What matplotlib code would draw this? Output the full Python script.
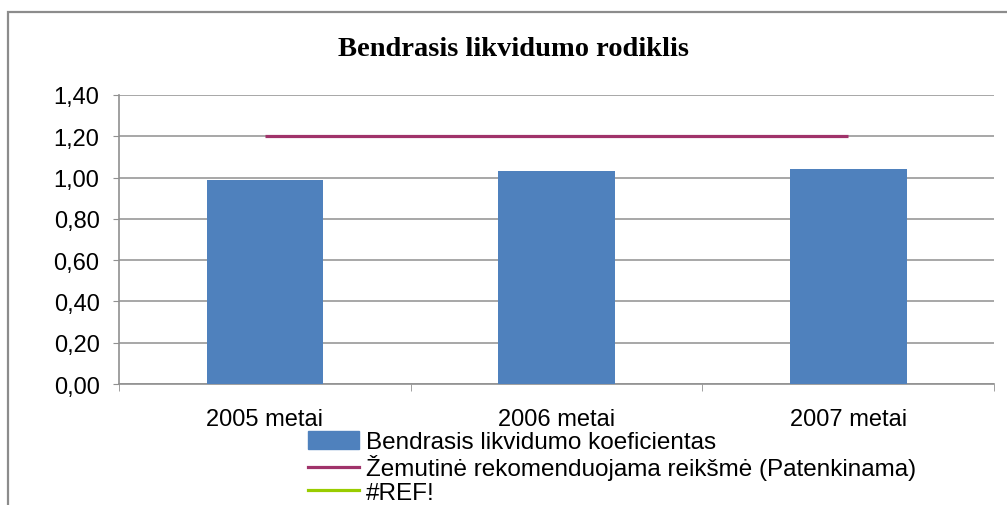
import matplotlib

matplotlib.use("Agg")

import matplotlib.pyplot as plt
from matplotlib.lines import Line2D
from matplotlib.patches import Rectangle
from matplotlib.ticker import FuncFormatter


# DUOMENYS

kategorijos = ["2005 metai", "2006 metai", "2007 metai"]

koeficientas = [0.99, 1.03, 1.04]

rekomenduojama = [1.20, 1.20, 1.20]

ref_reiksmes = []

y_ribos = (0.0, 1.40)
y_zingsnis = 0.20


# SPALVOS

SPALVA_STULPELIAI = "#4F81BD"
SPALVA_LINIJA = "#A0336A"
SPALVA_REF = "#99CC00"
SPALVA_TINKLELIS = "#A0A0A0"
SPALVA_ASYS = "#909090"

plt.rcParams["font.family"] = ["Liberation Sans", "DejaVu Sans"]

SRIFTAS_ASYS = 17
SRIFTAS_LEGENDA = 17.5


# GRAFIKAS

fig = plt.figure(figsize=(10.07, 5.06), dpi=100)

ax = fig.add_axes([0.1182, 0.2391, 0.869, 0.5712])

# isorinis remelis
fig.patches.append(
    Rectangle(
        (8 / 1007, -0.1),
        1.2,
        1.1 - 13 / 506,
        transform=fig.transFigure,
        fill=False,
        edgecolor="#8C8C8C",
        linewidth=1.6
    )
)

x = list(range(len(kategorijos)))

ax.bar(
    x,
    koeficientas,
    width=0.4,
    color=SPALVA_STULPELIAI,
    zorder=3
)

ax.plot(
    x,
    rekomenduojama,
    color=SPALVA_LINIJA,
    linewidth=2.3,
    solid_capstyle="butt",
    zorder=4
)

ax.plot(
    ref_reiksmes,
    ref_reiksmes,
    color=SPALVA_REF,
    linewidth=2.3
)

ax.set_xlim(-0.5, len(kategorijos) - 0.5)
ax.set_ylim(*y_ribos)

y_zymes = [
    round(i * y_zingsnis, 2)
    for i in range(int(round(y_ribos[1] / y_zingsnis)) + 1)
]

ax.set_yticks(y_zymes)

ax.yaxis.set_major_formatter(
    FuncFormatter(lambda v, _: f"{v:.2f}".replace(".", ","))
)

ax.set_xticks(x)
ax.set_xticklabels(kategorijos)

ax.set_xticks(
    [i - 0.5 for i in range(len(kategorijos) + 1)],
    minor=True
)

ax.tick_params(
    axis="x",
    which="major",
    length=0,
    pad=17,
    labelsize=SRIFTAS_ASYS
)

ax.tick_params(
    axis="x",
    which="minor",
    length=5,
    direction="out",
    color=SPALVA_ASYS
)

ax.tick_params(
    axis="y",
    length=4.5,
    direction="out",
    pad=9.5,
    color=SPALVA_ASYS,
    labelsize=SRIFTAS_ASYS
)

ax.grid(
    axis="y",
    color=SPALVA_TINKLELIS,
    linewidth=1.3,
    zorder=0
)

ax.set_axisbelow(True)

for puse in ["top", "right"]:
    ax.spines[puse].set_visible(False)

for puse in ["left", "bottom"]:
    ax.spines[puse].set_color(SPALVA_ASYS)
    ax.spines[puse].set_linewidth(1.2)

fig.text(
    513 / 1007,
    1 - 50 / 506,
    "Bendrasis likvidumo rodiklis",
    ha="center",
    va="center",
    fontsize=20.5,
    fontweight="bold",
    family="Liberation Serif"
)


# LEGENDA

legendos_elementai = [
    Rectangle((0, 0), 1, 1, color=SPALVA_STULPELIAI),
    Line2D([], [], color=SPALVA_LINIJA, linewidth=2.3),
    Line2D([], [], color=SPALVA_REF, linewidth=2.3),
]

legendos_tekstai = [
    "Bendrasis likvidumo koeficientas",
    "Žemutinė rekomenduojama reikšmė (Patenkinama)",
    "#REF!",
]

fig.legend(
    legendos_elementai,
    legendos_tekstai,
    loc="upper left",
    bbox_to_anchor=(308 / 1007, 1 - 432 / 506),
    frameon=False,
    fontsize=SRIFTAS_LEGENDA,
    handlelength=2.1,
    handleheight=0.75,
    handletextpad=0.3,
    labelspacing=0.04,
    borderpad=0,
    borderaxespad=0
)

fig.savefig("out.png", dpi=100)
